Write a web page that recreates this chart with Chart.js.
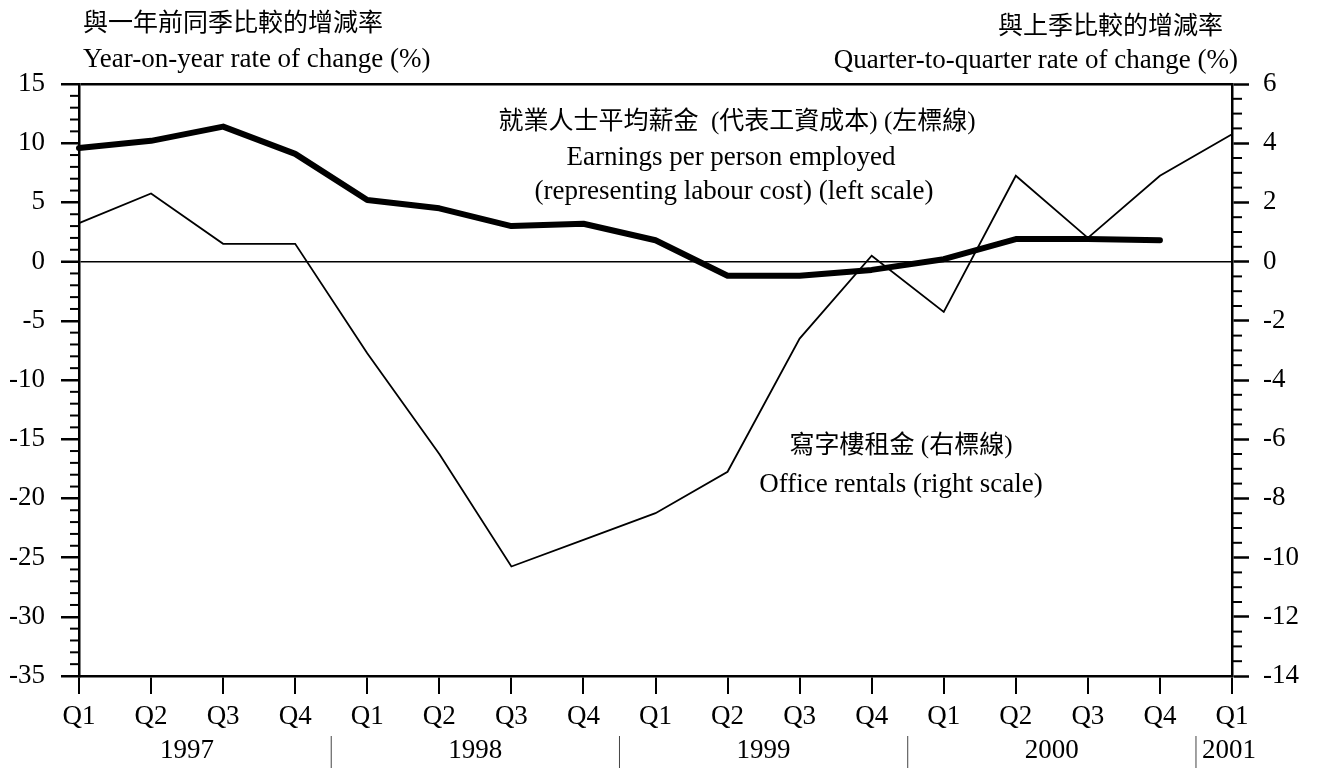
<!DOCTYPE html>
<html lang="zh-Hant">
<head>
<meta charset="UTF-8">
<title>就業人士平均薪金與寫字樓租金</title>
<script src="https://cdn.jsdelivr.net/npm/chart.js"></script>
<style>
  body { margin: 0; background: #fff; }
  #wrap { width: 1318px; height: 772px; position: relative; }
</style>
</head>
<body>
<div id="wrap"><canvas id="chart"></canvas></div>
<script>
const quarters = ['Q1','Q2','Q3','Q4','Q1','Q2','Q3','Q4','Q1','Q2','Q3','Q4','Q1','Q2','Q3','Q4','Q1'];
const years = ['1997','1998','1999','2000','2001'];
// 就業人士平均薪金, year-on-year % (left scale)
const earnings = [9.6, 10.2, 11.4, 9.1, 5.2, 4.5, 3.0, 3.2, 1.8, -1.2, -1.2, -0.7, 0.2, 1.9, 1.9, 1.8];
// 寫字樓租金, quarter-to-quarter % (right scale)
const officeRentals = [1.3, 2.3, 0.6, 0.6, -3.1, -6.5, -10.3, -9.4, -8.5, -7.1, -2.6, 0.2, -1.7, 2.9, 0.8, 2.9, 4.3];

const SERIF = '"Liberation Serif", "Noto Sans CJK TC", serif';

const decor = {
  id: 'decor',
  afterDraw(chart) {
    const { ctx, chartArea, scales } = chart;
    const x = scales.x, yL = scales.y, yR = scales.y1;
    ctx.save();
    ctx.strokeStyle = '#000';
    ctx.lineWidth = 2;
    const line = (x0, y0, x1, y1) => { ctx.beginPath(); ctx.moveTo(x0, y0); ctx.lineTo(x1, y1); ctx.stroke(); };

    // minor ticks
    for (let v = yL.min; v <= yL.max; v += 1) {
      if (v % 5 === 0) continue;
      const py = yL.getPixelForValue(v);
      line(chartArea.left - 9, py, chartArea.left, py);
    }
    for (let v = yR.min; v <= yR.max; v += 0.5) {
      if (v % 2 === 0) continue;
      const py = yR.getPixelForValue(v);
      line(chartArea.right, py, chartArea.right + 10, py);
    }

    // year labels + separators
    ctx.fillStyle = '#000';
    ctx.font = '27px ' + SERIF;
    ctx.textBaseline = 'middle';
    years.forEach((yr, i) => {
      const first = i * 4;
      const last = Math.min(first + 3, quarters.length - 1);
      const x0 = x.getPixelForValue(first), x1 = x.getPixelForValue(last);
      let sx = null;
      if (i > 0) {
        sx = (x.getPixelForValue(first - 1) + x0) / 2;
        ctx.save();
        ctx.lineWidth = 1;
        ctx.strokeStyle = '#444';
        line(sx, 736, sx, 768);
        ctx.restore();
      }
      if (first === last) {
        ctx.textAlign = 'left';
        ctx.fillText(yr, sx + 6, 751);
      } else {
        ctx.textAlign = 'center';
        ctx.fillText(yr, (x0 + x1) / 2, 751);
      }
    });

    // axis titles
    ctx.textAlign = 'left';
    ctx.font = '25px ' + SERIF;
    ctx.fillText('與一年前同季比較的增減率', 83, 24);
    ctx.font = '27px ' + SERIF;
    ctx.fillText('Year-on-year rate of change (%)', 83, 60);
    ctx.textAlign = 'right';
    ctx.font = '25px ' + SERIF;
    ctx.fillText('與上季比較的增減率', 1223, 27);
    ctx.font = '27px ' + SERIF;
    ctx.fillText('Quarter-to-quarter rate of change (%)', 1238, 61);

    // series notes
    ctx.textAlign = 'center';
    ctx.font = '25px ' + SERIF;
    ctx.fillText('就業人士平均薪金  (代表工資成本) (左標線)', 737, 122);
    ctx.fillText('寫字樓租金 (右標線)', 901, 446);
    ctx.font = '27px ' + SERIF;
    ctx.fillText('Earnings per person employed', 731, 158);
    ctx.fillText('(representing labour cost) (left scale)', 734, 192);
    ctx.fillText('Office rentals (right scale)', 901, 485);
    ctx.restore();
  }
};

new Chart(document.getElementById('chart'), {
  type: 'line',
  data: {
    labels: quarters,
    datasets: [
      { label: 'Earnings per person employed', data: earnings, yAxisID: 'y',
        borderColor: '#000', borderWidth: 6, pointRadius: 0, tension: 0,
        borderJoinStyle: 'round', borderCapStyle: 'round' },
      { label: 'Office rentals', data: officeRentals, yAxisID: 'y1',
        borderColor: '#000', borderWidth: 1.8, pointRadius: 0, tension: 0 }
    ]
  },
  options: {
    responsive: true,
    maintainAspectRatio: false,
    animation: false,
    layout: { padding: { top: 84, left: 0, right: 0, bottom: 0 } },
    plugins: { legend: { display: false }, tooltip: { enabled: false } },
    scales: {
      x: {
        offset: false,
        grid: { drawOnChartArea: false, color: '#000', lineWidth: 2, tickLength: 18 },
        border: { color: '#000', width: 2.5 },
        ticks: { color: '#000', font: { family: SERIF, size: 27 }, padding: 7, maxRotation: 0, autoSkip: false },
        afterFit: s => { s.height = 96; }
      },
      y: {
        position: 'left',
        min: -35, max: 15,
        grid: {
          color: c => (c.tick && (c.tick.value === 0 || c.tick.value === 15)) ? '#000' : 'rgba(0,0,0,0)',
          lineWidth: c => (c.tick && c.tick.value === 0) ? 1.5 : 2.5,
          tickColor: '#000', tickWidth: 2.5, tickLength: 18
        },
        border: { color: '#000', width: 2.5 },
        ticks: { stepSize: 5, color: '#000', font: { family: SERIF, size: 27 }, padding: 16 },
        afterFit: s => { s.width = 79; }
      },
      y1: {
        position: 'right',
        min: -14, max: 6,
        grid: { drawOnChartArea: false, tickColor: '#000', tickWidth: 2.5, tickLength: 17 },
        border: { color: '#000', width: 2.5 },
        ticks: { stepSize: 2, color: '#000', font: { family: SERIF, size: 27 }, padding: 14 },
        afterFit: s => { s.width = 86; }
      }
    }
  },
  plugins: [decor]
});
</script>
</body>
</html>
